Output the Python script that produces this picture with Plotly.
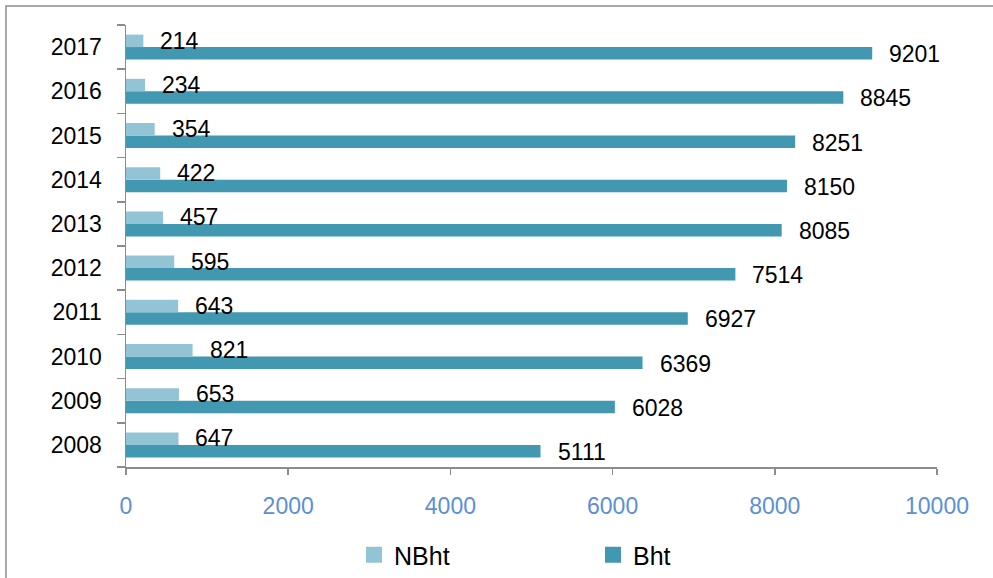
import plotly.graph_objects as go

years = ["2008", "2009", "2010", "2011", "2012", "2013", "2014", "2015", "2016", "2017"]
nbht = [647, 653, 821, 643, 595, 457, 422, 354, 234, 214]
bht = [5111, 6028, 6369, 6927, 7514, 8085, 8150, 8251, 8845, 9201]
x_ticks = [0, 2000, 4000, 6000, 8000, 10000]

LIGHT = "rgb(147,196,213)"
DARK = "rgb(65,152,176)"
FONT = "Liberation Sans"
FS = 23

fig = go.Figure()
fig.add_trace(go.Bar(y=years, x=bht, orientation="h", name="Bht",
                     marker=dict(color=DARK, line=dict(width=0)), showlegend=False))
fig.add_trace(go.Bar(y=years, x=nbht, orientation="h", name="NBht",
                     marker=dict(color=LIGHT, line=dict(width=0)), showlegend=False))
# legend entries (square swatches)
fig.add_trace(go.Scatter(x=[None], y=[None], mode="markers", name="NBht",
                         marker=dict(symbol="square", size=20, color=LIGHT)))
fig.add_trace(go.Scatter(x=[None], y=[None], mode="markers", name="Bht",
                         marker=dict(symbol="square", size=20, color=DARK)))

annotations = []
for i, v in enumerate(nbht):
    annotations.append(dict(x=v, y=i, text=str(v), showarrow=False, xanchor="left",
                            xshift=15, yshift=6.5, font=dict(size=FS, color="black", family=FONT)))
for i, v in enumerate(bht):
    annotations.append(dict(x=v, y=i, text=str(v), showarrow=False, xanchor="left",
                            xshift=15, yshift=-7, font=dict(size=FS, color="black", family=FONT)))

W, H = 993, 578
L, R, T, B = 126, 56, 25, 111
pw = W - L - R
ph = H - T - B

fig.update_layout(
    width=W, height=H,
    margin=dict(l=L, r=R, t=T, b=B, autoexpand=False),
    paper_bgcolor="white", plot_bgcolor="white",
    barmode="group", bargap=0.435, bargroupgap=0,
    font=dict(family=FONT, size=FS, color="black"),
    annotations=annotations,
    showlegend=True,
    legend=dict(orientation="h", x=(354 - L) / pw, xanchor="left",
                y=-(555 - (H - B)) / ph, yanchor="middle", entrywidth=194, entrywidthmode="pixels",
                itemsizing="trace", bgcolor="rgba(0,0,0,0)",
                font=dict(size=25, color="black", family=FONT)),
    xaxis=dict(range=[0, 10000], tickvals=x_ticks, ticktext=[str(t) for t in x_ticks],
               showgrid=False, zeroline=False, showline=True, linecolor="#8c8c8c", linewidth=1.5,
               ticks="outside", ticklen=6, tickcolor="#8c8c8c", tickwidth=1.5, automargin=False,
               ticklabelstandoff=12,
               tickfont=dict(color="rgb(91,143,214)", size=FS, family=FONT), fixedrange=True),
    yaxis=dict(type="category", categoryorder="array", categoryarray=years,
               range=[-0.5, len(years) - 0.5], autorange=False, automargin=False,
               showgrid=False, zeroline=False, showline=True, linecolor="#8c8c8c", linewidth=1.5,
               ticks="outside", ticklen=8, tickcolor="#8c8c8c", tickwidth=1.5,
               tickson="boundaries", ticklabelstandoff=18,
               tickfont=dict(color="black", size=FS, family=FONT), fixedrange=True),
    shapes=[dict(type="rect", xref="paper", yref="paper",
                 x0=(6 - L) / pw, x1=(W + 5 - L) / pw,
                 y0=(H - B - (H + 5)) / ph, y1=(H - B - 6) / ph,
                 line=dict(color="#8c8c8c", width=1.5), fillcolor="rgba(0,0,0,0)", layer="below")],
)

fig.write_html("out.html", config={"displayModeBar": False, "staticPlot": True},
               post_script="document.body.style.margin='0px';document.body.style.overflow='hidden';")
